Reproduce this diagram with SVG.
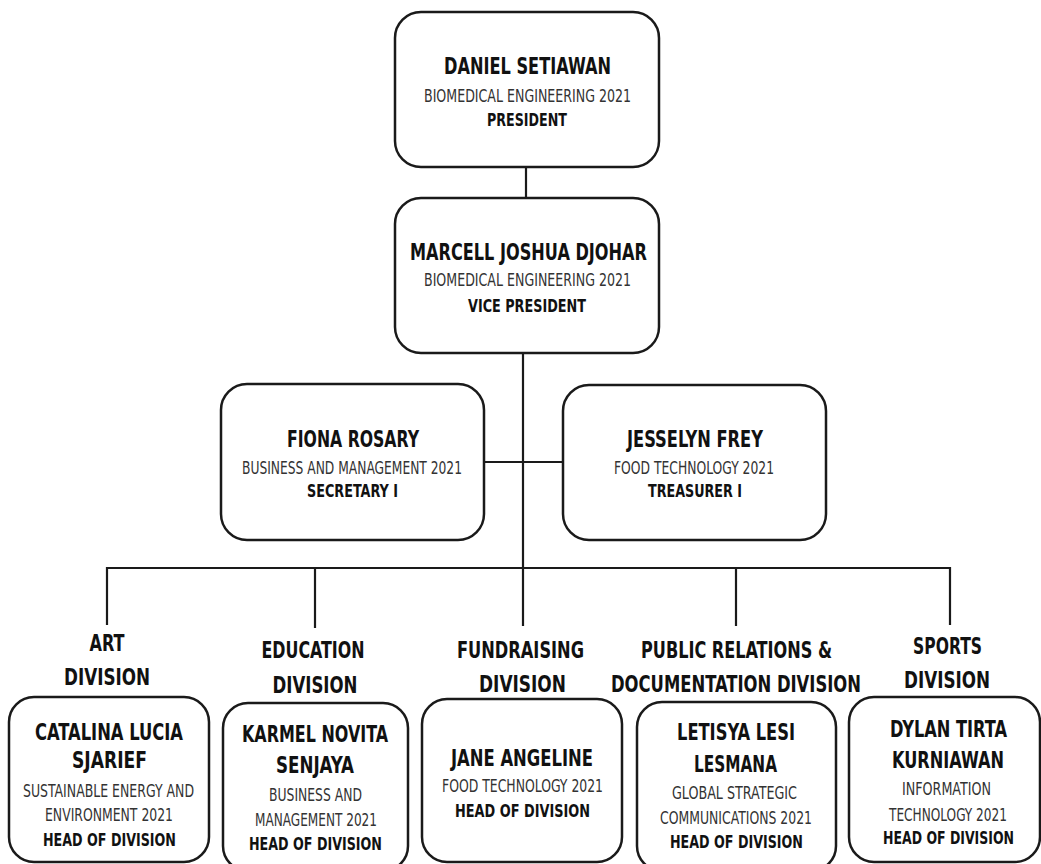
<svg xmlns="http://www.w3.org/2000/svg" width="1041" height="864" viewBox="0 0 1041 864">
<style>
.box{fill:#fff;stroke:#1a1a1a;stroke-width:2.5}
.ln{stroke:#1a1a1a;stroke-width:2.2;fill:none}
text{font-family:"DejaVu Sans Condensed","DejaVu Sans","Liberation Sans",sans-serif;text-anchor:middle}
.nm{font-size:23px;font-weight:bold;fill:#111}
.sub{font-size:17px;fill:#333}
.role{font-size:17.5px;font-weight:bold;fill:#111}
.div{font-size:22.5px;font-weight:bold;fill:#111}
</style>
<rect width="1041" height="864" fill="#fff"/>
<g id="connectors">
<line class="ln" x1="526" y1="167" x2="526" y2="198"/>
<line class="ln" x1="523" y1="353" x2="523" y2="626"/>
<line class="ln" x1="485" y1="462" x2="563" y2="462"/>
<polyline class="ln" points="107,625 107,568 950,568 950,625"/>
<line class="ln" x1="315" y1="568" x2="315" y2="628"/>
<line class="ln" x1="736" y1="568" x2="736" y2="626"/>
</g>
<g id="president">
<rect class="box" x="395" y="12" width="264" height="155" rx="26"/>
<text class="nm" x="527.5" y="74" textLength="167" lengthAdjust="spacingAndGlyphs">DANIEL SETIAWAN</text>
<text class="sub" x="527.5" y="102" textLength="207" lengthAdjust="spacingAndGlyphs">BIOMEDICAL ENGINEERING 2021</text>
<text class="role" x="527" y="126" textLength="80" lengthAdjust="spacingAndGlyphs">PRESIDENT</text>
</g>
<g id="vice-president">
<rect class="box" x="395" y="198" width="264" height="155" rx="26"/>
<text class="nm" x="528.5" y="260" textLength="237" lengthAdjust="spacingAndGlyphs">MARCELL JOSHUA DJOHAR</text>
<text class="sub" x="527.5" y="286" textLength="207" lengthAdjust="spacingAndGlyphs">BIOMEDICAL ENGINEERING 2021</text>
<text class="role" x="527" y="312" textLength="118" lengthAdjust="spacingAndGlyphs">VICE PRESIDENT</text>
</g>
<g id="secretary">
<rect class="box" x="221" y="384" width="263" height="156" rx="26"/>
<text class="nm" x="353" y="447" textLength="132" lengthAdjust="spacingAndGlyphs">FIONA ROSARY</text>
<text class="sub" x="352" y="474" textLength="220" lengthAdjust="spacingAndGlyphs">BUSINESS AND MANAGEMENT 2021</text>
<text class="role" x="352.5" y="497" textLength="91" lengthAdjust="spacingAndGlyphs">SECRETARY I</text>
</g>
<g id="treasurer">
<rect class="box" x="563" y="385" width="263" height="155" rx="26"/>
<text class="nm" x="695" y="447" textLength="136" lengthAdjust="spacingAndGlyphs">JESSELYN FREY</text>
<text class="sub" x="694" y="474" textLength="160" lengthAdjust="spacingAndGlyphs">FOOD TECHNOLOGY 2021</text>
<text class="role" x="695" y="497" textLength="94" lengthAdjust="spacingAndGlyphs">TREASURER I</text>
</g>
<g id="art-division">
<text class="div" x="107" y="651" textLength="35" lengthAdjust="spacingAndGlyphs">ART</text>
<text class="div" x="107" y="685" textLength="86" lengthAdjust="spacingAndGlyphs">DIVISION</text>
<rect class="box" x="9" y="697" width="200" height="165" rx="25"/>
<text class="nm" x="109" y="740" textLength="148" lengthAdjust="spacingAndGlyphs">CATALINA LUCIA</text>
<text class="nm" x="109.5" y="768" textLength="75" lengthAdjust="spacingAndGlyphs">SJARIEF</text>
<text class="sub" x="108.5" y="797" textLength="171" lengthAdjust="spacingAndGlyphs">SUSTAINABLE ENERGY AND</text>
<text class="sub" x="109" y="821" textLength="128" lengthAdjust="spacingAndGlyphs">ENVIRONMENT 2021</text>
<text class="role" x="109.5" y="846" textLength="133" lengthAdjust="spacingAndGlyphs">HEAD OF DIVISION</text>
</g>
<g id="education-division">
<text class="div" x="313" y="658" textLength="103" lengthAdjust="spacingAndGlyphs">EDUCATION</text>
<text class="div" x="315" y="693" textLength="85" lengthAdjust="spacingAndGlyphs">DIVISION</text>
<rect class="box" x="223" y="703" width="185" height="168" rx="25"/>
<text class="nm" x="315" y="742" textLength="146" lengthAdjust="spacingAndGlyphs">KARMEL NOVITA</text>
<text class="nm" x="315" y="773" textLength="78" lengthAdjust="spacingAndGlyphs">SENJAYA</text>
<text class="sub" x="315.5" y="801" textLength="93" lengthAdjust="spacingAndGlyphs">BUSINESS AND</text>
<text class="sub" x="316" y="826" textLength="122" lengthAdjust="spacingAndGlyphs">MANAGEMENT 2021</text>
<text class="role" x="315.5" y="850" textLength="133" lengthAdjust="spacingAndGlyphs">HEAD OF DIVISION</text>
</g>
<g id="fundraising-division">
<text class="div" x="520.5" y="658" textLength="127" lengthAdjust="spacingAndGlyphs">FUNDRAISING</text>
<text class="div" x="522.5" y="692" textLength="87" lengthAdjust="spacingAndGlyphs">DIVISION</text>
<rect class="box" x="422" y="699" width="200" height="163" rx="25"/>
<text class="nm" x="522" y="766" textLength="142" lengthAdjust="spacingAndGlyphs">JANE ANGELINE</text>
<text class="sub" x="522.5" y="792" textLength="161" lengthAdjust="spacingAndGlyphs">FOOD TECHNOLOGY 2021</text>
<text class="role" x="522.5" y="817" textLength="135" lengthAdjust="spacingAndGlyphs">HEAD OF DIVISION</text>
</g>
<g id="pr-division">
<text class="div" x="736.5" y="658" textLength="191" lengthAdjust="spacingAndGlyphs">PUBLIC RELATIONS &amp;</text>
<text class="div" x="736" y="692" textLength="250" lengthAdjust="spacingAndGlyphs">DOCUMENTATION DIVISION</text>
<rect class="box" x="637" y="702" width="199" height="169" rx="25"/>
<text class="nm" x="736" y="740" textLength="118" lengthAdjust="spacingAndGlyphs">LETISYA LESI</text>
<text class="nm" x="735.5" y="772" textLength="83" lengthAdjust="spacingAndGlyphs">LESMANA</text>
<text class="sub" x="734.5" y="799" textLength="125" lengthAdjust="spacingAndGlyphs">GLOBAL STRATEGIC</text>
<text class="sub" x="736" y="824" textLength="152" lengthAdjust="spacingAndGlyphs">COMMUNICATIONS 2021</text>
<text class="role" x="736.5" y="848" textLength="133" lengthAdjust="spacingAndGlyphs">HEAD OF DIVISION</text>
</g>
<g id="sports-division">
<text class="div" x="947.5" y="654" textLength="69" lengthAdjust="spacingAndGlyphs">SPORTS</text>
<text class="div" x="947" y="688" textLength="86" lengthAdjust="spacingAndGlyphs">DIVISION</text>
<rect class="box" x="849" y="697" width="191" height="165" rx="25"/>
<text class="nm" x="948.5" y="737" textLength="117" lengthAdjust="spacingAndGlyphs">DYLAN TIRTA</text>
<text class="nm" x="948" y="768" textLength="112" lengthAdjust="spacingAndGlyphs">KURNIAWAN</text>
<text class="sub" x="946.5" y="795" textLength="89" lengthAdjust="spacingAndGlyphs">INFORMATION</text>
<text class="sub" x="948" y="821" textLength="118" lengthAdjust="spacingAndGlyphs">TECHNOLOGY 2021</text>
<text class="role" x="948.5" y="844" textLength="131" lengthAdjust="spacingAndGlyphs">HEAD OF DIVISION</text>
</g>
</svg>
